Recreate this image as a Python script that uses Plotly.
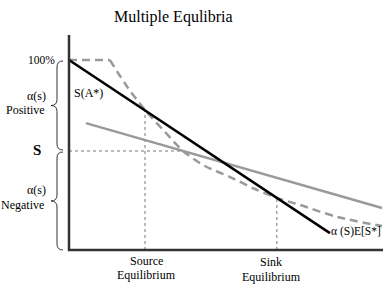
import plotly.graph_objects as go

# ---- data (conceptual units: x 0-100, y 0-100%) ----
black_x = [0, 83.1]
black_y = [100, 8.9]

dashed_x = [0, 13.0, 18.8, 24.2, 30.6, 36.3, 43.3, 51.3, 59.2, 66.2, 73.6, 85.4, 99.7]
dashed_y = [100, 100, 85.3, 73.7, 62.1, 52.1, 44.2, 38.4, 32.1, 27.4, 23.7, 17.4, 12.6]

gray_x = [5.4, 99.7]
gray_y = [66.8, 22.1]

s_level = 52.1
s_end_x = 36.3
source_pt = (24.2, 73.7)
sink_pt = (66.2, 27.4)
yaxis_top = 113.2
xaxis_end = 100.0

# ---- pixel <-> data mapping helpers for layout placement ----
X0, XS = 69.0, 3.14
Y0, YS = 250.0, 1.9
W, H = 387, 294


def px(xp):
    return (xp - X0) / XS


def py(yp):
    return (Y0 - yp) / YS


FONT = "Liberation Serif, Times New Roman, serif"

fig = go.Figure()

# dotted guides
fig.add_trace(go.Scatter(x=[0, s_end_x], y=[s_level, s_level], mode="lines",
                         line=dict(color="#777", width=1, dash="dot"), hoverinfo="skip"))
fig.add_trace(go.Scatter(x=[source_pt[0], source_pt[0]], y=[0, source_pt[1]], mode="lines",
                         line=dict(color="#777", width=1, dash="dot"), hoverinfo="skip"))
fig.add_trace(go.Scatter(x=[sink_pt[0], sink_pt[0]], y=[0, sink_pt[1]], mode="lines",
                         line=dict(color="#777", width=1, dash="dot"), hoverinfo="skip"))

# gray solid line
fig.add_trace(go.Scatter(x=gray_x, y=gray_y, mode="lines",
                         line=dict(color="#9a9a9a", width=2.5), hoverinfo="skip"))
# dashed curve: flat part, then smooth decline
fig.add_trace(go.Scatter(x=dashed_x[:2], y=dashed_y[:2], mode="lines",
                         line=dict(color="#9a9a9a", width=2.5, dash="8px,5px"), hoverinfo="skip"))
fig.add_trace(go.Scatter(x=dashed_x[1:], y=dashed_y[1:], mode="lines", line_shape="spline",
                         line=dict(color="#9a9a9a", width=2.5, dash="8px,5px", smoothing=0.8),
                         hoverinfo="skip"))
# black line
fig.add_trace(go.Scatter(x=black_x, y=black_y, mode="lines",
                         line=dict(color="black", width=2.5), hoverinfo="skip"))

# axes
fig.add_trace(go.Scatter(x=[0, 0, xaxis_end], y=[yaxis_top, 0, 0], mode="lines",
                         line=dict(color="#333", width=2.5), hoverinfo="skip"))


# braces
def brace(y_top_px, y_bot_px, x_end=63, x_v=57, x_tip=51, r=6):
    ym = (y_top_px + y_bot_px) / 2
    pts = [
        ("M", [(x_end, y_top_px)]),
        ("Q", [(x_v, y_top_px), (x_v, y_top_px + r)]),
        ("L", [(x_v, ym - r)]),
        ("Q", [(x_v, ym), (x_tip, ym)]),
        ("Q", [(x_v, ym), (x_v, ym + r)]),
        ("L", [(x_v, y_bot_px - r)]),
        ("Q", [(x_v, y_bot_px), (x_end, y_bot_px)]),
    ]
    s = ""
    for cmd, ps in pts:
        s += cmd + " " + " ".join(f"{px(a):.3f},{py(b):.3f}" for a, b in ps) + " "
    return s.strip()


for (a, b) in [(61, 150), (152, 250)]:
    fig.add_shape(type="path", path=brace(a, b), xref="x", yref="y",
                  line=dict(color="#333", width=1))


def ann(text, xp, yp, xanchor="center", size=12, bold=False):
    fig.add_annotation(x=px(xp), y=py(yp), text=("<b>%s</b>" % text) if bold else text,
                       xanchor=xanchor, yanchor="middle", showarrow=False,
                       font=dict(family=FONT, size=size, color="black"))


ann("Multiple Equlibria", 173, 17, size=16)
ann("100%", 57, 60, xanchor="right", size=11.5)
ann("α(s)", 48, 96, xanchor="right")
ann("Positive", 47, 110, xanchor="right")
ann("S", 37, 150, size=15, bold=True)
ann("α(s)", 48, 190, xanchor="right")
ann("Negative", 46, 205, xanchor="right")
ann("S(A*)", 72, 93, xanchor="left")
ann("Source", 146, 261)
ann("Equilibrium", 146, 275)
ann("Sink", 271, 262)
ann("Equilibrium", 271, 277)
ann("α (S)E[S*]", 383, 231, xanchor="right", size=11.5)

fig.update_layout(
    width=W, height=H,
    margin=dict(l=0, r=0, t=0, b=0),
    paper_bgcolor="white", plot_bgcolor="white",
    showlegend=False,
    xaxis=dict(range=[px(0), px(W)], visible=False, fixedrange=True),
    yaxis=dict(range=[py(H), py(0)], visible=False, fixedrange=True),
)

fig.write_html("out.html", config={"displayModeBar": False})
